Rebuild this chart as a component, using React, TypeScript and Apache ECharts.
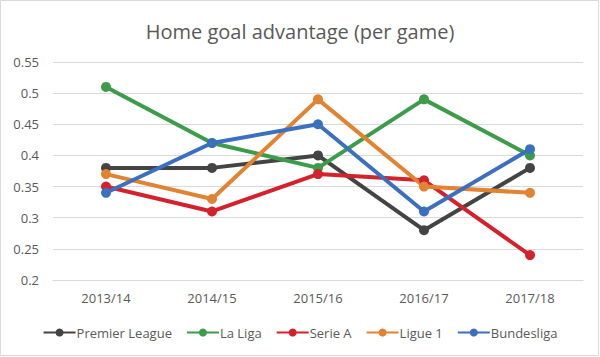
import React, { useEffect, useRef } from "react";
import * as echarts from "echarts";

const categories = ["2013/14", "2014/15", "2015/16", "2016/17", "2017/18"];
const premierLeague = [0.38, 0.38, 0.4, 0.28, 0.38];
const laLiga = [0.51, 0.42, 0.38, 0.49, 0.4];
const serieA = [0.35, 0.31, 0.37, 0.36, 0.24];
const ligue1 = [0.37, 0.33, 0.49, 0.35, 0.34];
const bundesliga = [0.34, 0.42, 0.45, 0.31, 0.41];

const seriesDefs = [
  { name: "Premier League", data: premierLeague, color: "#444444" },
  { name: "La Liga", data: laLiga, color: "#3c9c4a" },
  { name: "Serie A", data: serieA, color: "#d3222b" },
  { name: "Ligue 1", data: ligue1, color: "#e28332" },
  { name: "Bundesliga", data: bundesliga, color: "#3b6fbf" },
];

const FONT = "'Open Sans', sans-serif";

export default function App() {
  const ref = useRef<HTMLDivElement>(null);
  useEffect(() => {
    if (!ref.current) return;
    const chart = echarts.init(ref.current, undefined, { renderer: "svg" });
    chart.setOption({
      animation: false,
      backgroundColor: "#ffffff",
      textStyle: { fontFamily: FONT },
      title: {
        text: "Home goal advantage (per game)",
        left: "center",
        top: 16,
        textStyle: { fontFamily: FONT, fontSize: 20, fontWeight: "normal", color: "#595959" },
      },
      graphic: [
        {
          type: "rect",
          shape: { x: 0.5, y: 0.5, width: 598, height: 355 },
          style: { fill: "none", stroke: "#d9d9d9", lineWidth: 1 },
          silent: true,
        },
      ],
      legend: {
        bottom: 13,
        left: "center",
        itemWidth: 32,
        itemHeight: 10,
        itemGap: 14,
        textStyle: { fontFamily: FONT, fontSize: 13, color: "#595959", padding: [0, 0, 0, -4] },
        data: seriesDefs.map((s) => s.name),
      },
      grid: { left: 53, right: 17, top: 62, bottom: 77, containLabel: false },
      xAxis: {
        type: "category",
        data: categories,
        boundaryGap: true,
        axisLine: { show: true, lineStyle: { color: "#d9d9d9" } },
        axisTick: { show: false },
        axisLabel: { fontFamily: FONT, fontSize: 13, color: "#595959", margin: 11 },
      },
      yAxis: {
        type: "value",
        min: 0.2,
        max: 0.55,
        interval: 0.05,
        axisLine: { show: false },
        axisTick: { show: false },
        axisLabel: {
          fontFamily: FONT,
          fontSize: 13,
          color: "#595959",
          margin: 14,
          formatter: (v: number) => String(Math.round(v * 100) / 100),
        },
        splitLine: { lineStyle: { color: "#d9d9d9" } },
      },
      series: seriesDefs.map((s) => ({
        name: s.name,
        type: "line",
        data: s.data,
        symbol: "circle",
        symbolSize: 10,
        color: s.color,
        lineStyle: { width: 4, color: s.color },
        itemStyle: { color: s.color },
      })),
    });
    return () => chart.dispose();
  }, []);
  return (
    <div style={{ position: "fixed", left: 0, top: 0, width: 600, height: 357 }}>
      <div ref={ref} style={{ width: 600, height: 357 }} />
    </div>
  );
}
